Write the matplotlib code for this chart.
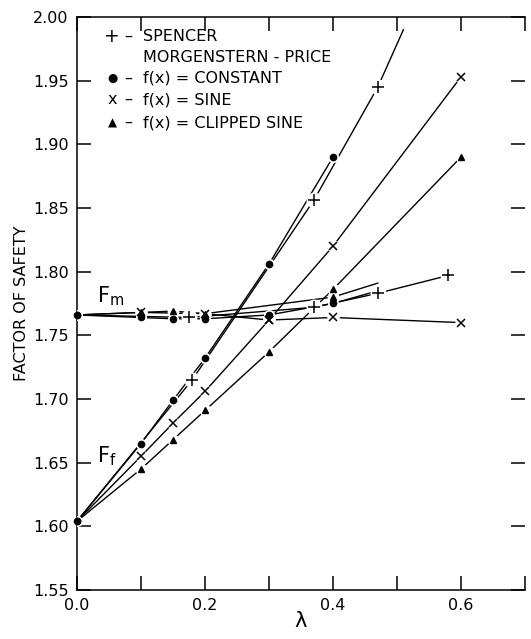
import numpy as np
import matplotlib.pyplot as plt

# lambda values and factor of safety
# Spencer
sp_ff_lam = [0.0, 0.18, 0.37, 0.47]
sp_ff = [1.604, 1.715, 1.856, 1.945]
sp_ff_end = (0.51, 1.99)
sp_fm_lam = [0.0, 0.175, 0.37, 0.47, 0.58]
sp_fm = [1.766, 1.764, 1.772, 1.783, 1.797]

# Morgenstern-Price, f(x) = constant
c_ff_lam = [0.0, 0.1, 0.15, 0.2, 0.3, 0.4]
c_ff = [1.604, 1.665, 1.699, 1.732, 1.806, 1.890]
c_fm_lam = [0.0, 0.1, 0.15, 0.2, 0.3, 0.4]
c_fm = [1.766, 1.764, 1.763, 1.763, 1.766, 1.775]
c_fm_end = (0.47, 1.785)

# f(x) = sine
s_ff_lam = [0.0, 0.1, 0.15, 0.2, 0.3, 0.4, 0.6]
s_ff = [1.604, 1.655, 1.681, 1.706, 1.762, 1.820, 1.953]
s_fm_lam = [0.0, 0.1, 0.2, 0.3, 0.4, 0.6]
s_fm = [1.766, 1.768, 1.767, 1.762, 1.764, 1.760]

# f(x) = clipped sine
cs_ff_lam = [0.0, 0.1, 0.15, 0.2, 0.3, 0.4, 0.6]
cs_ff = [1.604, 1.645, 1.668, 1.691, 1.737, 1.786, 1.890]
cs_fm_lam = [0.0, 0.1, 0.15, 0.2, 0.4]
cs_fm = [1.766, 1.768, 1.769, 1.767, 1.780]
cs_fm_end = (0.47, 1.791)

legend_sym = ['+', '', '●', 'x', '▲']
legend_txt = ['SPENCER', 'MORGENSTERN - PRICE', 'f(x) = CONSTANT',
              'f(x) = SINE', 'f(x) = CLIPPED SINE']
legend_y = [1.985, 1.968, 1.952, 1.935, 1.917]

plt.rcParams['font.family'] = ['DejaVu Sans']

fig = plt.figure(figsize=(5.31, 6.39), dpi=100)
ax = fig.add_axes([0.145, 0.0767, 0.8437, 0.8967])

lw = 1.0

def curve(lam, val, marker, ms, end=None, first_marker=True):
    xs = list(lam)
    ys = list(val)
    if end is not None:
        xs.append(end[0])
        ys.append(end[1])
    ax.plot(xs, ys, color='black', lw=lw, zorder=2)
    mx = lam if first_marker else lam[1:]
    my = val if first_marker else val[1:]
    # white halo gives the small gaps around the symbols
    ax.plot(mx, my, 'o', color='white', ms=ms + 2.5, zorder=3)
    if marker == 'x' or marker == '+':
        ax.plot(mx, my, marker, color='black', ms=ms, mew=1.1, zorder=4)
    else:
        ax.plot(mx, my, marker, color='black', ms=ms, mec='black', zorder=4)

curve(sp_ff_lam, sp_ff, '+', 8, end=sp_ff_end, first_marker=False)
curve(sp_fm_lam, sp_fm, '+', 8, first_marker=False)
curve(c_ff_lam, c_ff, 'o', 4.5)
curve(c_fm_lam, c_fm, 'o', 4.5, end=c_fm_end)
curve(s_ff_lam, s_ff, 'x', 5.5, first_marker=False)
curve(s_fm_lam, s_fm, 'x', 5.5, first_marker=False)
curve(cs_ff_lam, cs_ff, '^', 5, first_marker=False)
curve(cs_fm_lam, cs_fm, '^', 5, end=cs_fm_end, first_marker=False)
# the two start points
ax.plot([0.0, 0.0], [c_ff[0], c_fm[0]], 'o', color='black', ms=4.5, zorder=5,
        clip_on=False)

ax.set_xlim(0, 0.7)
ax.set_ylim(1.55, 2.00)

ax.set_xticks(np.arange(0, 0.71, 0.1))
ax.set_xticklabels(['0.0', '', '0.2', '', '0.4', '', '0.6', ''])
yt = np.arange(1.55, 2.001, 0.05)
ax.set_yticks(yt)
ax.set_yticklabels(['%.2f' % v for v in yt])

ax.tick_params(direction='in', length=10, width=1.1, labelsize=11.5,
               pad=6, top=True, right=True, color='black')
for s in ['left', 'bottom', 'top']:
    ax.spines[s].set_linewidth(1.1)
ax.spines['right'].set_visible(False)

ax.set_ylabel('FACTOR OF SAFETY', fontsize=11.5, labelpad=3)
ax.set_xlabel('λ', fontsize=15, labelpad=-2)

# legend written as text, as in the original
fs = 11.5
for sym, txt, y in zip(legend_sym, legend_txt, legend_y):
    if sym:
        size = fs + 2 if sym == '+' else (fs if sym == 'x' else fs - 3)
        ax.text(0.055, y, sym, fontsize=size, ha='center', va='center')
        ax.text(0.080, y, '–', fontsize=fs, ha='center', va='center')
    ax.text(0.103, y, txt, fontsize=fs, ha='left', va='center')

ax.text(0.052, 1.781, r'$\mathregular{F_m}$', fontsize=15, ha='center', va='center')
ax.text(0.046, 1.655, r'$\mathregular{F_f}$', fontsize=15, ha='center', va='center')

fig.savefig('out.png', dpi=100)
